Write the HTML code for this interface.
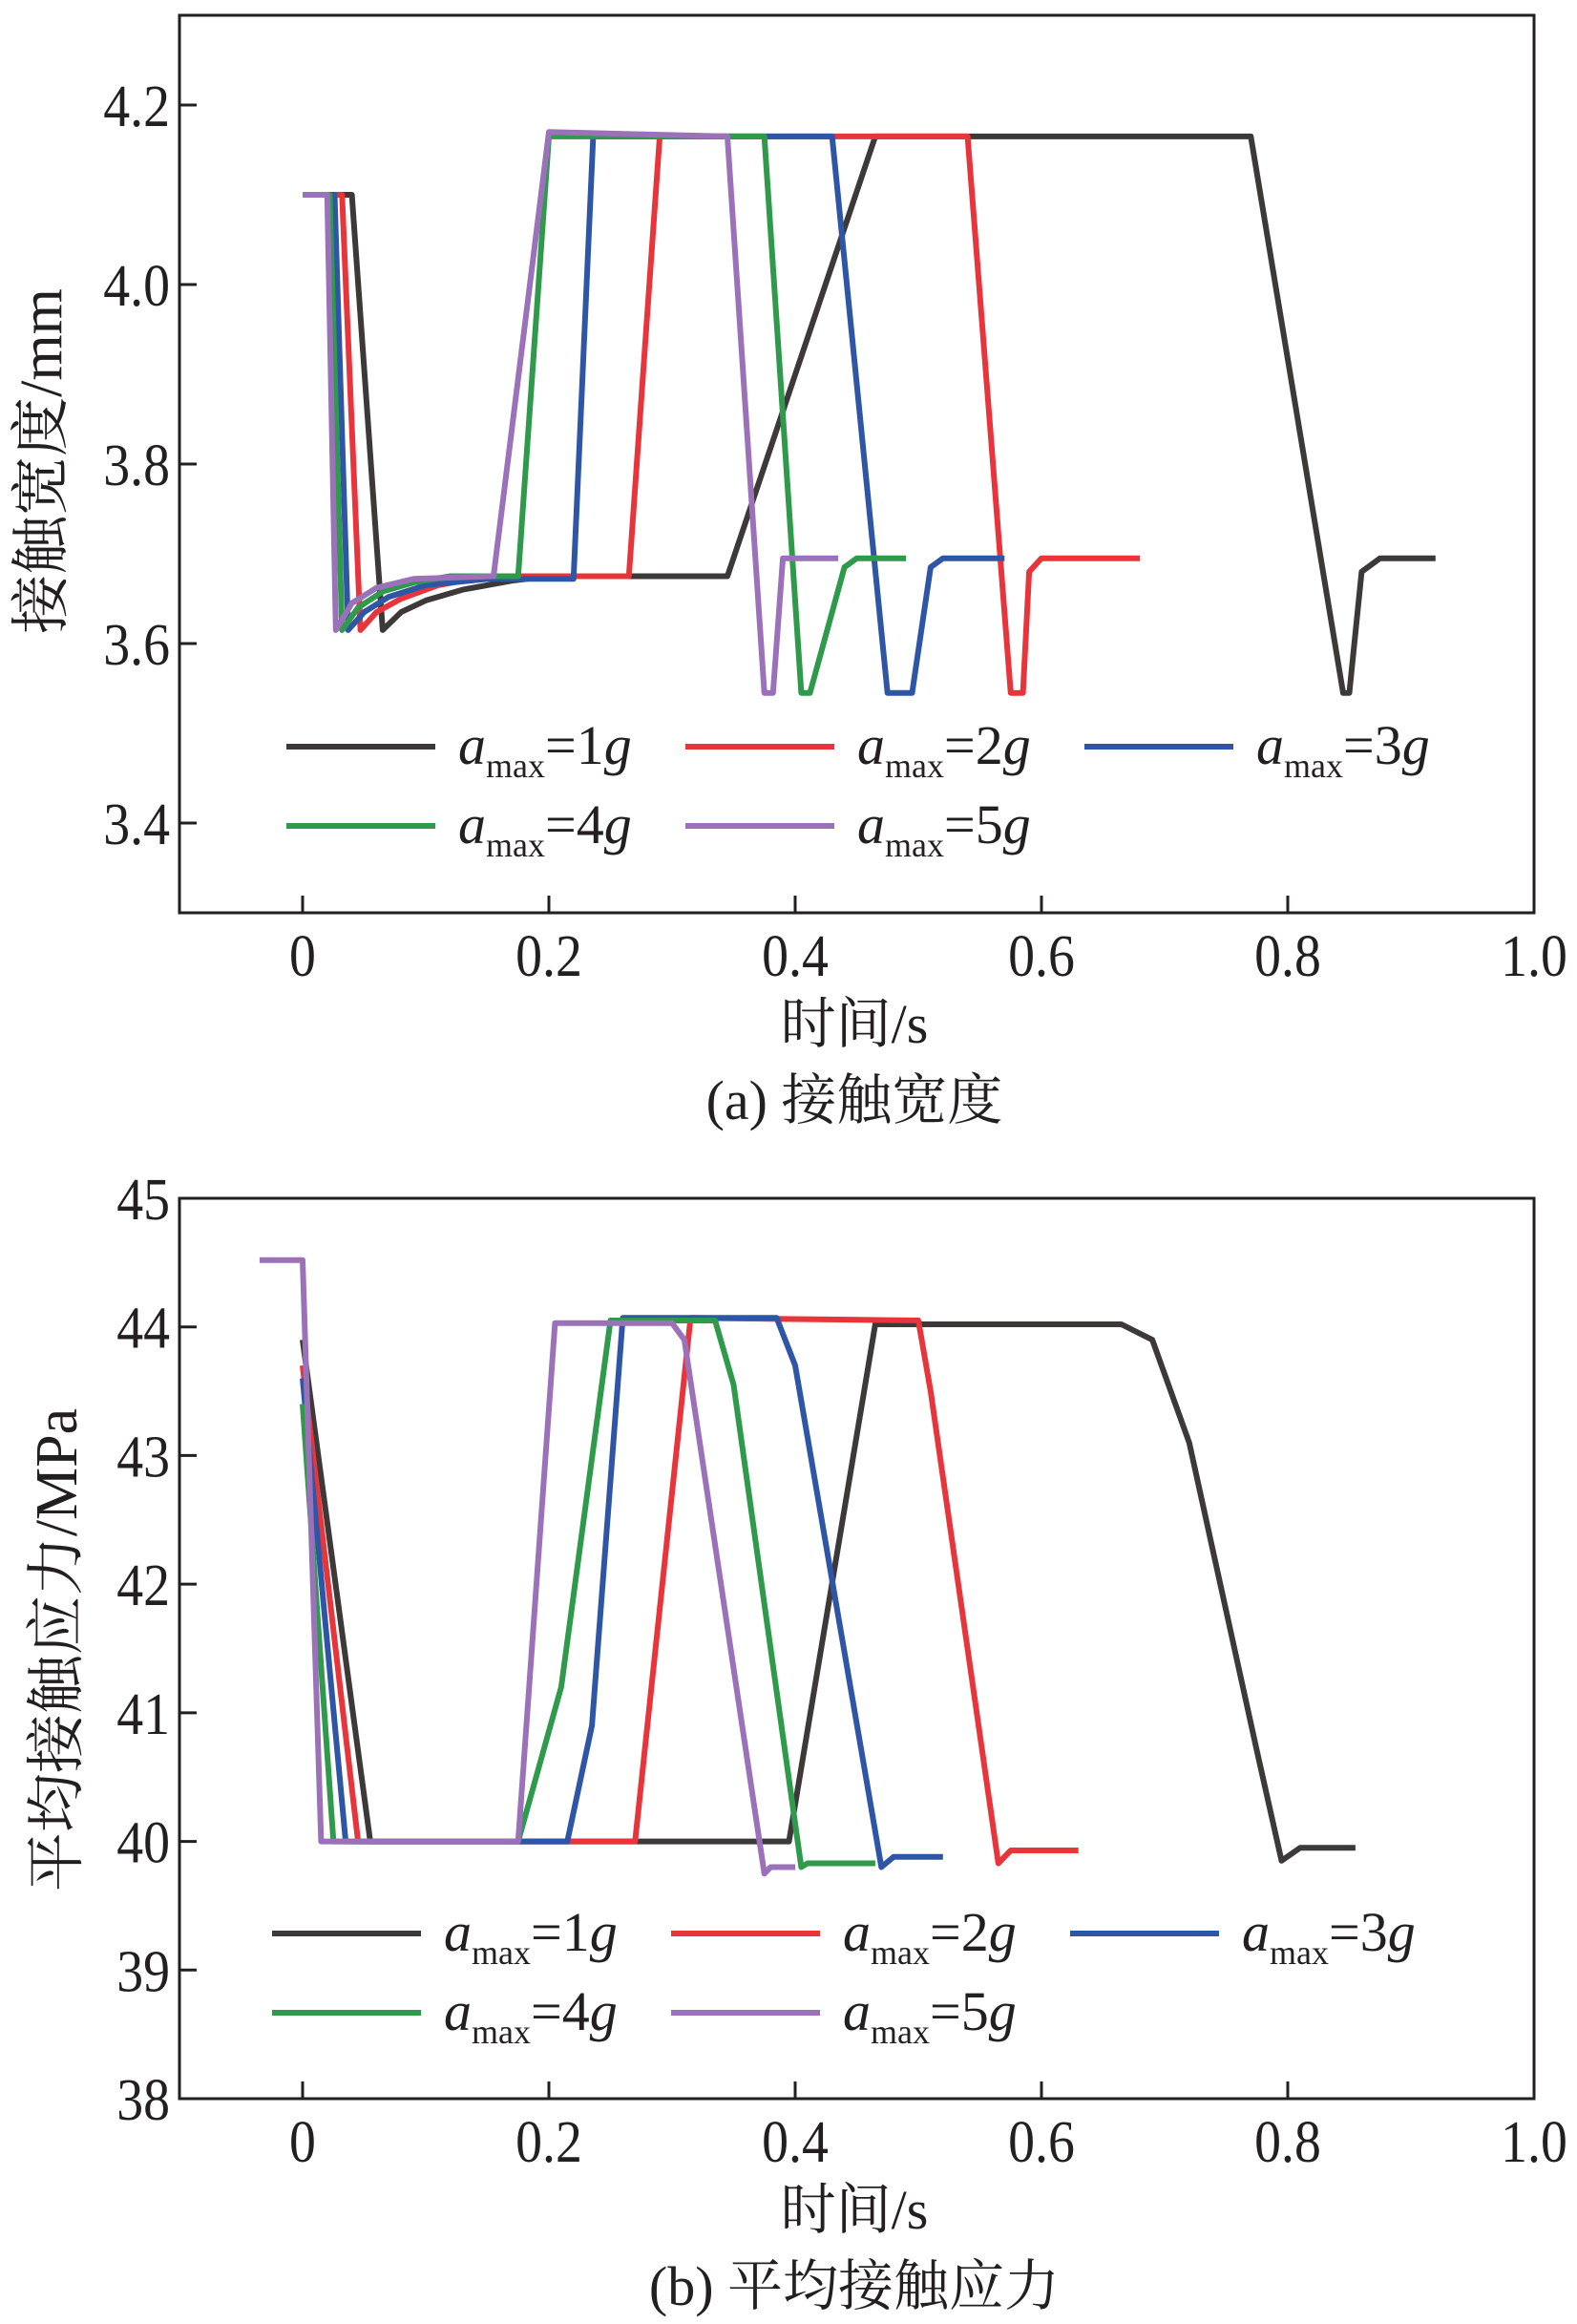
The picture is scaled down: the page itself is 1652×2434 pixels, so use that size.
<!DOCTYPE html>
<html><head><meta charset="utf-8"><style>
body{margin:0;background:#fff}
svg{display:block}
text{font-family:"Liberation Serif","Noto Serif CJK SC",serif;fill:#231f20}
</style></head><body>
<svg id="svg" width="1652" height="2434" viewBox="0 0 1652 2434"></svg>
<script>
const xTicks=[0,0.2,0.4,0.6,0.8,1.0];
const xTickLabels=["0","0.2","0.4","0.6","0.8","1.0"];
const yTicksA=[3.4,3.6,3.8,4.0,4.2];
const yTickLabelsA=["3.4","3.6","3.8","4.0","4.2"];
const yTicksB=[38,39,40,41,42,43,44,45];
const yTickLabelsB=["38","39","40","41","42","43","44","45"];
const seriesNames=["1","2","3","4","5"];
const colors=["#3d3939","#e8353b","#2f56a6","#2f9a4c","#9b72ba"];
// chart a: contact width (t, mm)
const a1t=[0.02,0.04,0.065,0.08,0.1,0.13,0.17,0.2,0.345,0.465,0.77,0.845,0.85,0.86,0.875,0.92];
const a1v=[4.1,4.1,3.615,3.635,3.648,3.66,3.67,3.675,3.675,4.165,4.165,3.545,3.545,3.68,3.695,3.695];
const a2t=[0.02,0.032,0.047,0.06,0.08,0.11,0.15,0.265,0.29,0.54,0.575,0.585,0.59,0.6,0.68];
const a2v=[4.1,4.1,3.615,3.635,3.65,3.665,3.675,3.675,4.165,4.165,3.545,3.545,3.68,3.695,3.695];
const a3t=[0.022,0.026,0.037,0.05,0.07,0.1,0.15,0.22,0.236,0.43,0.475,0.495,0.51,0.52,0.57];
const a3v=[4.1,4.1,3.615,3.635,3.652,3.665,3.672,3.672,4.165,4.165,3.545,3.545,3.685,3.695,3.695];
const a4t=[0.02,0.022,0.032,0.045,0.065,0.09,0.12,0.175,0.2,0.375,0.405,0.412,0.44,0.45,0.49];
const a4v=[4.1,4.1,3.615,3.64,3.658,3.668,3.675,3.675,4.165,4.165,3.545,3.545,3.685,3.695,3.695];
const a5t=[0,0.02,0.027,0.04,0.06,0.09,0.155,0.2,0.345,0.375,0.382,0.39,0.435];
const a5v=[4.1,4.1,3.615,3.645,3.662,3.672,3.675,4.17,4.165,3.545,3.545,3.695,3.695];
// chart b: mean contact stress (t, MPa)
const b1t=[0,0.055,0.395,0.465,0.665,0.69,0.72,0.775,0.795,0.81,0.855];
const b1v=[43.9,40,40,44.02,44.02,43.9,43.1,40.7,39.85,39.95,39.95];
const b2t=[0,0.045,0.27,0.315,0.5,0.51,0.565,0.575,0.63];
const b2v=[43.7,40,40,44.07,44.05,43.5,39.83,39.93,39.93];
const b3t=[0,0.035,0.215,0.235,0.26,0.385,0.4,0.47,0.48,0.52];
const b3v=[43.6,40,40,40.9,44.07,44.07,43.7,39.8,39.88,39.88];
const b4t=[0,0.025,0.175,0.21,0.25,0.335,0.35,0.405,0.41,0.465];
const b4v=[43.4,40,40,41.2,44.05,44.05,43.55,39.8,39.83,39.83];
const b5t=[-0.035,0,0.015,0.175,0.205,0.3,0.31,0.375,0.38,0.4];
const b5v=[44.52,44.52,40,40,44.03,44.03,43.9,39.75,39.8,39.8];

const NS="http://www.w3.org/2000/svg";
const svg=document.getElementById('svg');
function mk(tag,attrs,parent){const e=document.createElementNS(NS,tag);for(const k in attrs)e.setAttribute(k,attrs[k]);(parent||svg).appendChild(e);return e;}

function chart(o){
  const g=mk('g',{});
  
  
  const L=188,R=1607,T=o.top,B=o.bottom;
  const xs=v=>L+(v-(-0.1))/1.1*(R-L);
  const ys=v=>B-(v-o.ymin)/(o.ymax-o.ymin)*(B-T);
  const box=mk('rect',{x:L,y:T,width:R-L,height:B-T,fill:'none',stroke:'#231f20','stroke-width':3},g);
  
  
  xTicks.forEach((v,i)=>{
    const l=mk('line',{x1:xs(v),x2:xs(v),y1:B,y2:B-18,stroke:'#231f20','stroke-width':3},g);
    
    
    const t=mk('text',{x:xs(v),y:B+66,'font-size':62,'text-anchor':'middle',transform:'translate('+xs(v)+',0) scale(0.9,1) translate('+(-xs(v))+',0)'},g);
    t.textContent=xTickLabels[i];
    
    
  });
  o.yt.forEach((v,i)=>{
    const l=mk('line',{x1:L,x2:L+18,y1:ys(v),y2:ys(v),stroke:'#231f20','stroke-width':3},g);
    
    
    const t=mk('text',{x:L-10,y:ys(v)+22,'font-size':62,'text-anchor':'end',transform:'translate('+(L-10)+',0) scale(0.9,1) translate('+(-(L-10))+',0)'},g);
    t.textContent=o.ytl[i];
    
    
  });
  o.series.forEach((s,i)=>{
    const d=s[0].map((t,j)=>(j?'L':'M')+xs(t).toFixed(1)+','+ys(s[1][j]).toFixed(1)).join('');
    const p=mk('path',{d:d,fill:'none',stroke:colors[i],'stroke-width':6,'stroke-linejoin':'round'},g);
    
    
  });
  seriesNames.forEach((n,i)=>{
    const row=Math.floor(i/3),col=i%3;
    const lx=o.legX+col*418, ly=o.legY+row*83;
    const lg=mk('g',{},g);
    
    
    mk('line',{x1:lx,x2:lx+156,y1:ly,y2:ly,stroke:colors[i],'stroke-width':6},lg);
    const t=mk('text',{x:lx+180,y:ly+18,'font-size':58},lg);
    t.innerHTML='<tspan font-style="italic">a</tspan><tspan font-size="36" dy="14">max</tspan><tspan dy="-14">='+n+'</tspan><tspan font-style="italic">g</tspan>';
  });
  const xt=mk('text',{x:895,y:o.bottom+136,'font-size':58,'text-anchor':'middle'},g);
  xt.textContent='时间/s';
  
  
  const cap=mk('text',{x:895,y:o.bottom+216,'font-size':58,'text-anchor':'middle'},g);
  cap.textContent=o.caption;
  
  
  const yt=mk('text',{x:0,y:0,'font-size':62,'text-anchor':'middle',transform:'translate('+o.ytx+','+o.yty+') rotate(-90)'},g);
  yt.textContent=o.ytitle;
  
  
}
chart({name:'chart-contact-width',top:16,bottom:956,ymin:3.3,ymax:4.3,yt:yTicksA,ytl:yTickLabelsA,
  series:[[a1t,a1v],[a2t,a2v],[a3t,a3v],[a4t,a4v],[a5t,a5v]],legX:300,legY:782,
  caption:'(a) 接触宽度',ytitle:'接触宽度/mm',ytx:64,yty:483});
chart({name:'chart-mean-contact-stress',top:1255,bottom:2198,ymin:38,ymax:45,yt:yTicksB,ytl:yTickLabelsB,
  series:[[b1t,b1v],[b2t,b2v],[b3t,b3v],[b4t,b4v],[b5t,b5v]],legX:285,legY:2025,
  caption:'(b) 平均接触应力',ytitle:'平均接触应力/MPa',ytx:80,yty:1728});
</script>
</body></html>
